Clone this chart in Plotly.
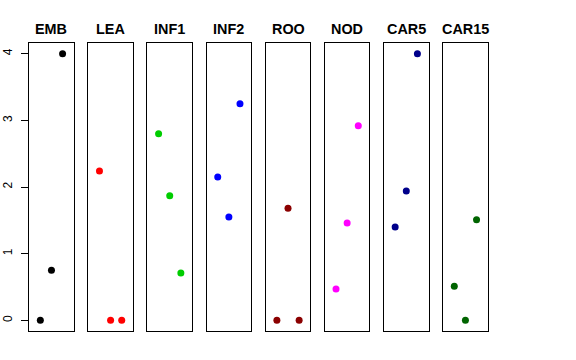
import plotly.graph_objects as go

categories = ["EMB", "LEA", "INF1", "INF2", "ROO", "NOD", "CAR5", "CAR15"]
positions = [1, 2, 3]
emb = [0.0, 0.75, 4.0]
lea = [2.24, 0.0, 0.0]
inf1 = [2.80, 1.87, 0.71]
inf2 = [2.15, 1.55, 3.25]
roo = [0.0, 1.68, 0.0]
nod = [0.47, 1.46, 2.92]
car5 = [1.40, 1.94, 4.0]
car15 = [0.51, 0.0, 1.51]
series = [emb, lea, inf1, inf2, roo, nod, car5, car15]
colors = ["#000000", "#FF0000", "#00CD00", "#0000FF", "#8B0000", "#FF00FF", "#00008B", "#006400"]
y_ticks = [0, 1, 2, 3, 4]

W, H = 576, 360
left0, step, pw = 29.2, 59.14, 44.5
top_px, bot_px = 43, 331

fig = go.Figure()
for i, (cat, vals, col) in enumerate(zip(categories, series, colors)):
    n = i + 1
    xa = "x" if n == 1 else f"x{n}"
    ya = "y" if n == 1 else f"y{n}"
    fig.add_trace(go.Scatter(x=positions, y=vals, mode="markers",
                             marker=dict(color=col, size=7, line=dict(width=0)),
                             xaxis=xa, yaxis=ya, showlegend=False, hoverinfo="y"))
    l = (left0 + step * i) / W
    r = (left0 + step * i + pw) / W
    xkey = "xaxis" if n == 1 else f"xaxis{n}"
    ykey = "yaxis" if n == 1 else f"yaxis{n}"
    fig.layout[xkey] = dict(domain=[l, r], range=[0, 4], showticklabels=False, ticks="",
                            showgrid=False, zeroline=False, showline=True, mirror=True,
                            linecolor="black", linewidth=1, fixedrange=True, anchor=ya)
    ydict = dict(domain=[(H - bot_px) / H, (H - top_px) / H], range=[-0.16, 4.16],
                 showgrid=False, zeroline=False, showline=True, mirror=True,
                 linecolor="black", linewidth=1, fixedrange=True, anchor=xa)
    if n == 1:
        ydict.update(tickvals=y_ticks, ticktext=[str(t) for t in y_ticks], ticks="outside",
                     ticklen=7, tickcolor="black", tickwidth=1, tickangle=-90,
                     ticklabelstandoff=4,
                     tickfont=dict(family="Liberation Sans, Arial", size=12, color="black"))
    else:
        ydict.update(showticklabels=False, ticks="")
    fig.layout[ykey] = ydict
    fig.add_annotation(text=f"<b>{cat}</b>", x=(l + r) / 2, y=(H - 29) / H,
                       xref="paper", yref="paper", showarrow=False,
                       xanchor="center", yanchor="middle",
                       font=dict(family="Liberation Sans, Arial", size=14.4, color="black"))

fig.update_layout(width=W, height=H, margin=dict(l=0, r=0, t=0, b=0),
                  paper_bgcolor="white", plot_bgcolor="white")
fig.write_html("out.html", config={"displayModeBar": False},
               post_script="document.body.style.margin='0';document.body.style.overflow='hidden';")
